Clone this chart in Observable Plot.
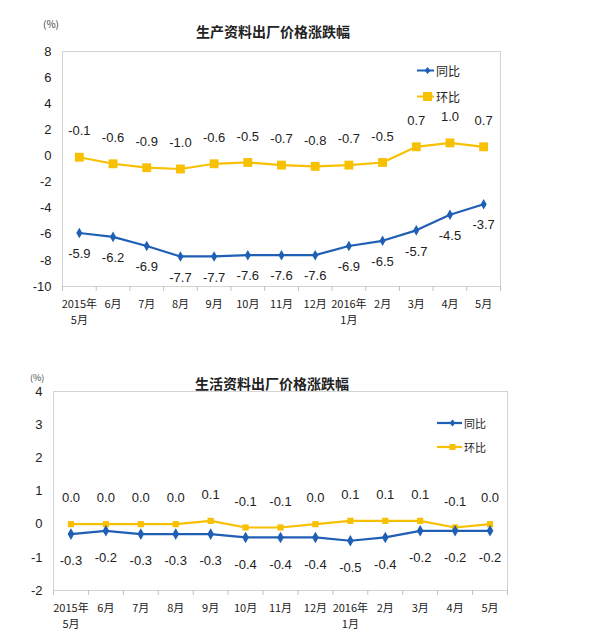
<!DOCTYPE html>
<html><head><meta charset="utf-8">
<script src="https://cdn.jsdelivr.net/npm/d3@7"></script>
<script src="https://cdn.jsdelivr.net/npm/@observablehq/plot@0.6"></script>
<style>
body{margin:0;background:#fff;}
#wrap{position:relative;width:600px;height:636px;overflow:hidden;font-family:"Liberation Sans",Arial,sans-serif;color:#222;}
.title{position:absolute;font-family:"Noto Sans CJK SC",sans-serif;font-weight:bold;font-size:14px;color:#222;transform:translate(-50%,-50%);white-space:nowrap;}
.unit{position:absolute;font-family:"Noto Sans CJK SC",sans-serif;color:#444;transform:translate(0,-50%);white-space:nowrap;line-height:1;}
.chart{position:absolute;left:0;}
.legend{position:absolute;font-family:"Noto Sans CJK SC",sans-serif;color:#222;}
.legend .row{position:absolute;display:flex;align-items:center;white-space:nowrap;transform:translate(0,-50%);}
.legend svg{display:block;margin-right:2px;}
</style></head>
<body><div id="wrap"></div>
<script>
const months = ["2015年\n5月","6月","7月","8月","9月","10月","11月","12月","2016年\n1月","2月","3月","4月","5月"];
const seriesNames = ["同比","环比"];
const prodYoY = [-5.9,-6.2,-6.9,-7.7,-7.7,-7.6,-7.6,-7.6,-6.9,-6.5,-5.7,-4.5,-3.7];
const prodMoM = [-0.1,-0.6,-0.9,-1.0,-0.6,-0.5,-0.7,-0.8,-0.7,-0.5,0.7,1.0,0.7];
const lifeYoY = [-0.3,-0.2,-0.3,-0.3,-0.3,-0.4,-0.4,-0.4,-0.5,-0.4,-0.2,-0.2,-0.2];
const lifeMoM = [0.0,0.0,0.0,0.0,0.1,-0.1,-0.1,0.0,0.1,0.1,0.1,-0.1,0.0];
const prodYTicks = [8,6,4,2,0,-2,-4,-6,-8,-10];
const lifeYTicks = [4,3,2,1,0,-1,-2];
const titles = ["生产资料出厂价格涨跌幅","生活资料出厂价格涨跌幅"];
const unitLabel = "(%)";
const colors = ["#1f5fb5","#f7c000"];

const wrap = document.getElementById("wrap");

function makeChart(o) {
  const yoy = o.yoy.map((v,i)=>({i, v}));
  const mom = o.mom.map((v,i)=>({i, v}));
  const idx = d3.range(months.length);
  const bounds = d3.range(-0.5, months.length, 1);
  return Plot.plot({
    width: 600, height: o.height,
    marginTop: o.mt, marginRight: o.mr, marginBottom: o.mb, marginLeft: o.ml,
    style: {fontFamily: "Liberation Sans, Arial, sans-serif", color: "#222", background: "transparent"},
    x: {type: "linear", domain: [-0.5, months.length - 0.5]},
    y: {domain: [d3.min(o.yTicks), d3.max(o.yTicks)]},
    marks: [
      Plot.frame({stroke: "#d4d4d4"}),
      Plot.axisY(o.yTicks, {tickSize: 0, tickPadding: 11, fontSize: 13, tickFormat: d => String(d), label: null}),
      Plot.axisX(bounds, {tickSize: 5, stroke: "#c0c0c0", tickFormat: () => "", label: null}),
      Plot.axisX(idx, {tickSize: 0, tickPadding: o.xPad, tickFormat: i => months[i], fontSize: 11, fontFamily: "Noto Sans CJK SC, sans-serif", lineHeight: 1.4, label: null}),
      Plot.line(mom, {x: "i", y: "v", stroke: colors[1], strokeWidth: 2.2}),
      Plot.dot(mom, {x: "i", y: "v", symbol: "square", r: o.sqR, fill: colors[1], stroke: "none"}),
      Plot.line(yoy, {x: "i", y: "v", stroke: colors[0], strokeWidth: 2.2}),
      Plot.dot(yoy, {x: "i", y: "v", symbol: "diamond", r: o.diaR, fill: colors[0], stroke: "none"}),
      Plot.text(mom, {x: "i", y: "v", text: d => d.v.toFixed(1), dy: o.momDy, fontSize: 13}),
      Plot.text(yoy, {x: "i", y: "v", text: d => d.v.toFixed(1), dy: o.yoyDy, fontSize: 13})
    ]
  });
}

function addChart(top, o, title, titlePos, unitPos, legendPos) {
  const div = document.createElement("div");
  div.className = "chart";
  div.style.top = top + "px";
  div.appendChild(makeChart(o));
  wrap.appendChild(div);

  const t = document.createElement("div");
  t.className = "title";
  t.textContent = title;
  t.style.left = titlePos[0] + "px";
  t.style.top = titlePos[1] + "px";
  t.style.fontSize = titlePos[2] + "px";
  wrap.appendChild(t);

  const u = document.createElement("div");
  u.className = "unit";
  u.textContent = unitLabel;
  u.style.left = unitPos[0] + "px";
  u.style.top = unitPos[1] + "px";
  u.style.fontSize = unitPos[2] + "px";
  wrap.appendChild(u);

  const lg = document.createElement("div");
  lg.className = "legend";
  lg.style.left = legendPos.x + "px";
  lg.style.top = legendPos.y + "px";
  lg.style.fontSize = legendPos.fs + "px";
  seriesNames.forEach((name, k) => {
    const row = document.createElement("div");
    row.className = "row";
    row.style.top = (k * legendPos.gap) + "px";
    const w = legendPos.w;
    const cx = w * 0.62;
    const marker = k === 0
      ? `<path d="M${cx},3.5 L${cx+3},7 L${cx},10.5 L${cx-3},7 Z" fill="${colors[0]}"/>`
      : `<rect x="${cx-legendPos.sq}" y="${7-legendPos.sq}" width="${legendPos.sq*2}" height="${legendPos.sq*2}" fill="${colors[1]}"/>`;
    row.innerHTML = `<svg width="${w}" height="14"><line x1="0" x2="${w}" y1="7" y2="7" stroke="${colors[k]}" stroke-width="2.2"/>${marker}</svg><span>${name}</span>`;
    lg.appendChild(row);
  });
  wrap.appendChild(lg);
}

addChart(0, {yoy: prodYoY, mom: prodMoM, yTicks: prodYTicks, height: 330, mt: 51, mr: 100, mb: 44, ml: 62, xPad: 11, sqR: 5, diaR: 3.2, momDy: -26, yoyDy: 21},
  titles[0], [273, 31, 14], [43, 24, 10], {x: 417, y: 70, gap: 26, fs: 12, w: 17, sq: 4.5});

addChart(330, {yoy: lifeYoY, mom: lifeMoM, yTicks: lifeYTicks, height: 306, mt: 61, mr: 93, mb: 46, ml: 53, xPad: 11, sqR: 3.5, diaR: 3.5, momDy: -26, yoyDy: 27},
  titles[1], [272, 383, 14], [30, 377, 9], {x: 437, y: 423, gap: 24, fs: 11, w: 25, sq: 3});
</script>
</body></html>
